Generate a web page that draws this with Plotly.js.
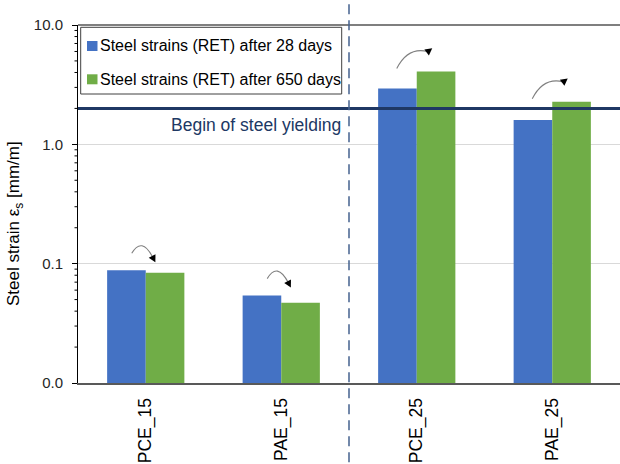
<!DOCTYPE html>
<html><head><meta charset="utf-8">
<script src="https://cdn.plot.ly/plotly-3.0.1.min.js"></script>
<style>html,body{margin:0;padding:0;background:#fff}#chart{width:620px;height:464px}</style>
</head><body><div id="chart"></div>
<script>
// ---- data ----
const categories = ['PCE_15', 'PAE_15', 'PCE_25', 'PAE_25'];
const seriesNames = ['Steel strains (RET) after 28 days', 'Steel strains (RET) after 650 days'];
const strain28 = [0.088, 0.054, 2.93, 1.60];
const strain650 = [0.084, 0.047, 4.07, 2.27];
const yieldStrain = 2.0;
const yieldLabel = 'Begin of steel yielding';
const yTickVals = [0.01, 0.1, 1, 10];
const yTickText = ['0.0', '0.1', '1.0', '10.0'];
const yTitle = 'Steel strain ε<sub>s</sub> [mm/m]';

// ---- styling / layout ----
const FONT = 'Arial, "Liberation Sans", sans-serif';
const W = 620, H = 464;
const M = {l: 78, r: 0, t: 25, b: 81};
const PW = W - M.l - M.r, PH = H - M.t - M.b;
const px = x => (x - M.l) / PW;          // pixel -> paper x
const py = y => (H - M.b - y) / PH;      // pixel -> paper y
const colors = ['#4472C4', '#70AD47'];
const navy = '#1F3864';

// minor log tick positions (2..9 within each decade)
const minorVals = [];
for (let d = 0; d < yTickVals.length - 1; d++) {
  for (let m = 2; m <= 9; m++) minorVals.push(+(yTickVals[d] * m).toPrecision(3));
}

const traces = [strain28, strain650].map((vals, k) => ({
  type: 'bar', x: categories, y: vals, name: seriesNames[k],
  marker: {color: colors[k], line: {width: 0}}, showlegend: false,
  hoverinfo: 'skip'
}));

const shapes = [];
const annotations = [];

// minor ticks on the log y axis (drawn just outside the axis line)
minorVals.forEach(v => {
  shapes.push({type: 'line', xref: 'paper', yref: 'y', x0: px(M.l - 3.5), x1: px(M.l), y0: v, y1: v,
    line: {color: '#000', width: 1}, layer: 'above'});
});

// top border line at 10.0
shapes.push({type: 'line', xref: 'paper', yref: 'paper', x0: 0, x1: 1, y0: 1, y1: 1,
  line: {color: '#7f7f7f', width: 2}});
// yield line
shapes.push({type: 'line', xref: 'paper', yref: 'y', x0: 0, x1: 1, y0: yieldStrain, y1: yieldStrain,
  line: {color: navy, width: 3}, layer: 'above'});
// divider between the _15 and _25 groups
const lastGroup15 = categories.filter(c => c.endsWith('_15')).length - 1;
shapes.push({type: 'line', xref: 'x', yref: 'paper', x0: lastGroup15 + 0.5, x1: lastGroup15 + 0.5,
  y0: -0.4, y1: 1.2, line: {color: '#44618f', width: 1.5, dash: '10px,6px'}, layer: 'above'});

// curved arrows (pixel offsets relative to bar tops)
function pt(p) { return p[0].toFixed(2) + ',' + p[1].toFixed(2); }
categories.forEach((c, i) => {
  const up = strain650[i] > strain28[i];
  const anchor = up ? strain650[i] : strain28[i];
  let P0, P1, P2, dir;
  if (up) { P0 = [-20, 3]; P1 = [-9, 25]; P2 = [11, 20]; dir = [0.8, 0.6]; }
  else { P0 = [-14, 17]; P1 = [-4, 34]; P2 = [7, 13]; dir = null; }
  let dx, dy;
  if (dir) { dx = dir[0]; dy = dir[1]; }
  else { dx = P2[0] - P1[0]; dy = P2[1] - P1[1]; }
  const L = Math.hypot(dx, dy); dx /= L; dy /= L;
  const len = 7, hw = 3.8;
  const tip = [P2[0] + dx * len * 0.8, P2[1] + dy * len * 0.8];
  const base = [tip[0] - dx * len, tip[1] - dy * len];
  const b1 = [base[0] + dy * hw, base[1] - dx * hw];
  const b2 = [base[0] - dy * hw, base[1] + dx * hw];
  const common = {type: 'path', xref: 'x', yref: 'y', xsizemode: 'pixel', ysizemode: 'pixel',
    xanchor: c, yanchor: anchor, layer: 'above'};
  shapes.push(Object.assign({}, common, {
    path: 'M' + pt(P0) + ' Q' + pt(P1) + ' ' + pt(P2),
    line: {color: '#808080', width: 1.1}, fillcolor: 'rgba(0,0,0,0)'}));
  shapes.push(Object.assign({}, common, {
    path: 'M' + pt(tip) + ' L' + pt(b1) + ' L' + pt(b2) + ' Z',
    line: {width: 0}, fillcolor: '#000'}));
});

// legend box (manual, to match the reference's compact layout)
shapes.push({type: 'rect', xref: 'paper', yref: 'paper', x0: px(80.7), x1: px(341.7), y0: py(94), y1: py(27.3),
  line: {color: '#404040', width: 1}, fillcolor: '#fff', layer: 'above'});
const legY = [46, 79.3];
seriesNames.forEach((name, k) => {
  shapes.push({type: 'rect', xref: 'paper', yref: 'paper', x0: px(87), x1: px(97.5),
    y0: py(legY[k] + 5), y1: py(legY[k] - 5), line: {width: 0}, fillcolor: colors[k], layer: 'above'});
  annotations.push({xref: 'paper', yref: 'paper', x: px(97.5), y: py(legY[k]), xanchor: 'left', yanchor: 'middle',
    text: name, showarrow: false, font: {family: FONT, size: 16, color: '#000'}});
});

// yield label
annotations.push({xref: 'paper', yref: 'paper', x: px(343), y: py(124.5), xanchor: 'right', yanchor: 'middle',
  text: yieldLabel, showarrow: false, font: {family: FONT, size: 17.5, color: '#203864'}});
// y-axis title
annotations.push({xref: 'paper', yref: 'paper', x: px(15), y: py(224), xanchor: 'center', yanchor: 'middle',
  text: yTitle, textangle: -90, showarrow: false, font: {family: FONT, size: 17, color: '#000'}});

const layout = {
  width: W, height: H, margin: M,
  paper_bgcolor: '#fff', plot_bgcolor: '#fff',
  font: {family: FONT, color: '#000'},
  barmode: 'group', bargap: 0.43, bargroupgap: 0,
  showlegend: false,
  xaxis: {
    type: 'category', range: [-0.5, categories.length - 0.5],
    showline: true, linecolor: '#595959', linewidth: 2,
    ticks: '', tickangle: -90, ticklabelstandoff: 6,
    tickfont: {family: FONT, size: 17.5, color: '#000'},
    showgrid: false, zeroline: false, fixedrange: true
  },
  yaxis: {
    type: 'log', range: [-2, 1],
    tickmode: 'array', tickvals: yTickVals, ticktext: yTickText,
    ticks: 'outside', ticklen: 5, tickcolor: '#000', tickwidth: 1,
    ticklabelstandoff: 6,
    showline: true, linecolor: '#000', linewidth: 1,
    showgrid: true, gridcolor: '#d9d9d9', gridwidth: 1,
    tickfont: {family: FONT, size: 15, color: '#262626'},
    zeroline: false, fixedrange: true
  },
  shapes: shapes,
  annotations: annotations
};

Plotly.newPlot('chart', traces, layout, {displayModeBar: false, staticPlot: true});
</script>
</body></html>
